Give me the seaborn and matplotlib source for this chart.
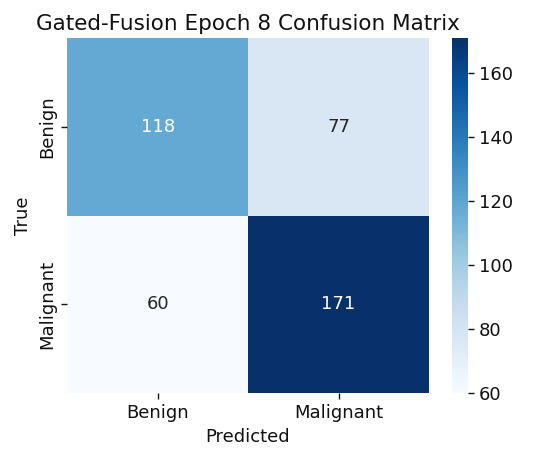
import matplotlib
matplotlib.use("Agg")
import matplotlib.pyplot as plt
import seaborn as sns
import numpy as np

labels = ["Benign", "Malignant"]
row_benign = [118, 77]
row_malignant = [60, 171]
title = "Gated-Fusion Epoch 8 Confusion Matrix"

cm = np.array([row_benign, row_malignant])

plt.rcParams['font.family'] = ['DejaVu Sans']

fig = plt.figure(figsize=(5.5, 4.59), dpi=100)
ax = fig.add_axes([0.122, 0.144, 0.658, 0.773])
cax = fig.add_axes([0.822, 0.144, 0.029, 0.773])
sns.heatmap(cm, annot=True, fmt="d", cmap="Blues", xticklabels=labels,
            yticklabels=labels, ax=ax, cbar_ax=cax,
            annot_kws={"fontsize": 13})
ax.set_title(title, fontsize=15.5, color="#111111")
ax.set_xlabel("Predicted", fontsize=13, color="#111111")
ax.set_ylabel("True", fontsize=13, color="#111111")
ax.tick_params(labelsize=13, length=4.5, width=1, colors="#111111")
cax.tick_params(labelsize=13, length=4.5, width=1, colors="#111111")
fig.savefig("out.png", dpi=100)
